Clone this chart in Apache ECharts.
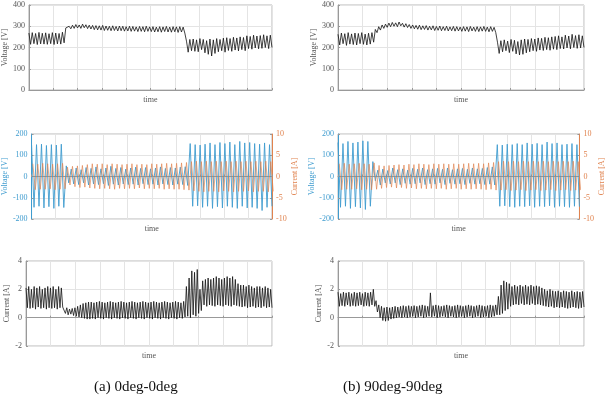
<!DOCTYPE html>
<html>
<head>
<meta charset="utf-8">
<script src="https://cdn.jsdelivr.net/npm/echarts@6/dist/echarts.min.js"></script>
<style>
  html, body { margin: 0; padding: 0; background: #fff; }
  #chart { width: 607px; height: 400px; }
</style>
</head>
<body>
<div id="chart"></div>
<script>
// 每个周期的峰值/谷值
// 顶部：直流电压 [V]
const voltA = [
  268,215, 270,218, 266,214, 271,217, 267,216, 269,215, 265,218, 270,214, 268,217, 266,216, 272,222,
  292,284, 300,288, 305,290, 308,292, 306,290, 310,293, 307,289, 305,287, 304,284, 303,283,
  302,282, 304,280, 301,281, 300,279, 302,280, 299,278, 301,279, 300,277, 298,278, 300,276,
  299,277, 297,275, 299,276, 298,274, 300,276, 297,275, 298,273, 296,274, 298,272, 297,275,
  299,273, 296,272, 298,274, 297,271, 298,273, 296,268,
  230,178, 238,185, 240,182, 236,180, 242,190, 238,175, 232,168, 240,160, 236,172, 242,180,
  238,185, 244,178, 246,186, 242,182, 248,188, 245,184, 250,190, 247,185, 255,195, 252,192,
  258,198, 254,194, 256,196, 260,200, 255,195, 258,200
];
const voltB = [
  262,212, 268,218, 265,210, 270,216, 264,214, 268,212, 266,218, 270,215, 263,212, 267,216, 270,225,
  285,270, 298,282, 306,290, 310,295, 315,298, 318,300, 316,298, 320,302, 314,296, 312,294,
  308,290, 306,288, 304,286, 305,284, 302,285, 303,282, 300,283, 302,280, 299,281, 301,279,
  298,280, 300,278, 297,279, 299,277, 298,278, 296,276, 298,277, 297,275, 299,278, 296,276,
  298,275, 297,277, 299,276, 296,274, 298,276, 295,270,
  225,172, 232,180, 236,185, 230,176, 238,182, 234,170, 228,165, 236,168, 240,175, 238,180,
  242,185, 240,182, 245,188, 243,186, 248,190, 246,187, 250,192, 252,190, 255,195, 250,193,
  258,198, 254,194, 262,200, 256,196, 260,198, 255,200
];

// 中部：交流电压 [V] 与 电流 [A]
const acVoltA = [
  148,-145, 150,-140, 152,-148, 146,-142, 150,-150, 148,-140, 152,-146,
  50,-30, 35,-35, 40,-38, 32,-30, 42,-40, 38,-35, 45,-38, 36,-34, 40,-42, 48,-36,
  38,-40, 42,-35, 35,-38, 40,-36, 44,-40, 38,-34, 42,-38, 36,-36, 40,-40, 45,-35,
  38,-38, 42,-40, 40,-36, 44,-38, 46,-42,
  155,-140, 150,-138, 148,-145, 152,-140, 158,-150, 150,-142, 160,-148, 155,-140, 162,-145,
  150,-150, 165,-140, 158,-148, 160,-145, 155,-150, 152,-160, 158,-145, 150,-140
];
const acCurA = [
  3.0,-3.1, 2.9,-3.0, 3.1,-3.0, 3.0,-2.9, 2.9,-3.1, 3.0,-3.0, 3.1,-2.9,
  2.2,-2.0, 2.4,-2.4, 2.5,-2.6, 2.6,-2.5, 2.8,-2.7, 3.0,-2.8, 2.9,-2.9, 3.0,-2.8, 2.8,-2.9, 3.0,-3.0,
  2.9,-2.8, 2.8,-2.9, 2.9,-2.8, 3.0,-2.9, 2.8,-2.7, 2.9,-2.9, 2.8,-2.8, 3.0,-2.9, 2.9,-2.8, 3.0,-3.0,
  3.1,-2.9, 3.0,-3.0, 3.1,-3.0, 3.2,-3.1, 3.3,-3.2,
  3.5,-3.4, 3.6,-3.5, 3.5,-3.6, 3.6,-3.5, 3.5,-3.5, 3.6,-3.6, 3.5,-3.4, 3.6,-3.5, 3.5,-3.6,
  3.6,-3.5, 3.5,-3.5, 3.6,-3.4, 3.5,-3.6, 3.6,-3.5, 3.5,-3.5, 3.6,-3.6, 3.5,-3.5
];
const acVoltB = [
  160,-145, 155,-140, 165,-150, 158,-142, 162,-148, 168,-155, 165,-140,
  70,-20, 30,-40, 35,-30, 28,-35, 40,-30, 32,-38, 36,-32, 30,-36, 38,-34, 34,-30,
  40,-38, 32,-34, 36,-36, 38,-30, 34,-38, 40,-32, 32,-36, 36,-34, 38,-38, 34,-32,
  40,-36, 36,-34, 38,-38, 42,-36, 45,-40,
  150,-140, 148,-138, 152,-142, 150,-145, 155,-140, 150,-142, 158,-138, 152,-145, 156,-140,
  150,-142, 162,-138, 155,-145, 158,-140, 150,-142, 152,-145, 155,-140, 150,-142
];
const acCurB = [
  3.0,-3.1, 3.1,-3.0, 2.9,-3.0, 3.0,-2.9, 3.1,-3.1, 3.0,-3.0, 2.9,-3.1,
  3.2,-3.0, 2.6,-2.8, 2.5,-2.6, 2.6,-2.5, 2.7,-2.7, 2.8,-2.6, 2.7,-2.8, 2.9,-2.7, 2.8,-2.9, 3.0,-2.8,
  2.9,-2.9, 2.8,-2.8, 3.0,-2.9, 2.9,-2.8, 3.0,-3.0, 2.9,-2.9, 3.0,-2.8, 2.9,-3.0, 3.0,-2.9, 3.1,-3.0,
  3.0,-2.9, 3.1,-3.0, 3.0,-3.1, 3.2,-3.0, 3.3,-3.2,
  3.5,-3.2, 3.6,-3.1, 3.5,-3.3, 3.6,-3.2, 3.5,-3.1, 3.6,-3.3, 3.5,-3.2, 3.6,-3.1, 3.5,-3.3,
  3.6,-3.2, 3.5,-3.1, 3.6,-3.3, 3.5,-3.2, 3.6,-3.1, 3.5,-3.3, 3.6,-3.2, 3.5,-3.2
];

// 底部：电流 [A]
const curA = [
  2.1,0.7, 2.2,0.65, 2.0,0.7, 2.2,0.6, 2.1,0.75, 2.2,0.65, 2.0,0.7, 2.1,0.6, 2.2,0.7, 2.1,0.65,
  2.2,0.7, 2.0,0.6, 2.2,0.7, 2.1,0.75,
  0.8,0.3, 0.7,0.2, 0.6,0.25, 0.65,0.15, 0.7,0.1, 0.8,0.05, 0.9,0.0, 1.0,-0.05, 1.05,-0.1, 1.1,-0.1,
  1.1,-0.05, 1.05,-0.1, 1.1,0.0, 1.15,-0.05, 1.1,-0.1, 1.05,0.0, 1.1,-0.05, 1.15,-0.1, 1.1,0.0, 1.05,-0.05,
  1.1,-0.1, 1.15,0.0, 1.1,-0.05, 1.05,-0.1, 1.1,0.0, 1.15,-0.05, 1.1,-0.1, 1.05,0.0, 1.1,-0.05, 1.15,-0.1,
  1.1,0.0, 1.05,-0.05, 1.1,-0.1, 1.15,0.0, 1.1,-0.05, 1.05,-0.1, 1.1,0.0, 1.15,-0.05, 1.1,-0.1, 1.05,0.0,
  1.1,-0.05, 1.15,-0.1, 1.1,0.0, 1.05,-0.05, 1.15,0.05,
  2.2,0.1, 2.8,0.0, 3.3,0.2, 3.2,0.1, 3.4,0.3, 2.0,0.5, 2.6,0.9, 2.7,0.8, 2.8,0.9, 2.7,0.85,
  2.8,0.8, 2.9,0.9, 2.8,0.85, 2.7,0.8, 2.8,0.9, 2.9,0.85, 2.8,0.8, 2.9,0.9, 2.7,0.85, 2.4,0.8,
  2.3,0.75, 2.3,0.8, 2.2,0.7, 2.3,0.75, 2.2,0.8, 2.1,0.7, 2.2,0.75, 2.2,0.7, 2.1,0.8, 2.2,0.7,
  2.1,0.75, 2.0,0.7
];
const curB = [
  1.8,0.8, 1.7,0.85, 1.8,0.8, 1.75,0.9, 1.8,0.8, 1.7,0.85, 1.8,0.8, 1.75,0.85, 1.8,0.9, 1.7,0.8,
  1.8,0.85, 1.75,0.8, 1.8,0.9, 2.0,0.8,
  1.2,0.4, 0.9,0.0, 0.8,-0.2, 0.7,-0.25, 0.75,-0.2, 0.7,-0.1, 0.75,-0.05, 0.8,0.0, 0.75,0.05, 0.8,0.0,
  0.85,0.05, 0.8,0.0, 0.85,0.05, 0.8,0.1, 0.85,0.0, 0.8,0.05, 0.85,0.1, 0.9,0.0, 0.85,0.05, 0.8,0.1,
  1.75,0.05, 0.85,0.1, 0.9,0.0, 0.85,0.05, 0.8,0.1, 0.85,0.05, 0.9,0.0, 0.85,0.1, 0.8,0.05, 0.85,0.0,
  0.9,0.05, 0.85,0.1, 0.8,0.0, 0.85,0.05, 0.9,0.1, 0.85,0.0, 0.8,0.05, 0.85,0.1, 0.9,0.0, 0.85,0.05,
  0.8,0.1, 0.85,0.0, 0.9,0.05, 0.85,0.1, 0.9,0.2,
  1.5,0.2, 2.3,0.3, 2.6,0.5, 2.5,0.6, 2.4,0.8, 2.2,0.9, 2.3,0.95, 2.2,0.9, 2.3,1.0, 2.2,0.9,
  2.3,0.95, 2.2,0.9, 2.3,1.0, 2.2,0.9, 2.25,0.95, 2.2,0.9, 2.1,0.85, 2.0,0.8, 1.9,0.75, 2.0,0.8,
  1.9,0.7, 1.85,0.75, 1.9,0.7, 1.8,0.75, 1.9,0.7, 1.85,0.65, 1.8,0.7, 1.9,0.75, 1.8,0.7, 1.85,0.65,
  1.8,0.7, 1.85,0.75
];

const captions = ['(a) 0deg-0deg', '(b) 90deg-90deg'];

const FONT = '"Liberation Serif", "DejaVu Serif", serif';
const BLUE = '#3f9ccf';
const ORANGE = '#e0834f';

const chart = echarts.init(document.getElementById('chart'));

const grids = [], xAxes = [], yAxes = [], series = [];

const lefts = [26, 338];
const tops = [5, 134, 261];

function toXY(arr, shift) {
  return arr.map((v, i) => [i + (shift || 0), v]);
}

function addGrid(left, top) {
  grids.push({ left: left, top: top, width: 246, height: 85, show: true, borderColor: '#b8b8b8', borderWidth: 1 });
  return grids.length - 1;
}

function addX(gi, n) {
  const max = n - 1;
  xAxes.push({
    gridIndex: gi, type: 'value', min: 0, max: max, interval: max / 10,
    name: 'time', nameLocation: 'middle', nameGap: 6,
    nameTextStyle: { fontFamily: FONT, fontSize: 8, color: '#555' },
    axisLabel: { show: false },
    axisLine: { show: true, lineStyle: { color: '#999' } },
    axisTick: { show: true, inside: true, length: 2, lineStyle: { color: '#999' } },
    splitLine: { show: true, lineStyle: { color: '#e4e4e4', width: 1 } }
  });
  return xAxes.length - 1;
}

function addY(gi, opt) {
  yAxes.push(Object.assign({
    gridIndex: gi, type: 'value', position: 'left',
    nameLocation: 'middle', nameGap: 15, nameRotate: 90,
    nameTextStyle: { fontFamily: FONT, fontSize: 8, color: '#555' },
    axisLabel: { fontFamily: FONT, fontSize: 8, color: '#555', margin: 4 },
    axisLine: { show: true, lineStyle: { color: '#999' } },
    axisTick: { show: true, inside: true, length: 2, lineStyle: { color: '#999' } },
    splitLine: { show: true, lineStyle: { color: '#e4e4e4', width: 1 } }
  }, opt));
  return yAxes.length - 1;
}

function addLine(xi, yi, data, color, width, opacity) {
  series.push({
    type: 'line', xAxisIndex: xi, yAxisIndex: yi, data: data,
    showSymbol: false, symbol: 'none', silent: true,
    lineStyle: { color: color, width: width, opacity: opacity },
    z: 3
  });
}

[[voltA, acVoltA, acCurA, curA], [voltB, acVoltB, acCurB, curB]].forEach((set, k) => {
  const left = lefts[k];

  // 直流电压
  let gi = addGrid(left, tops[0]);
  let xi = addX(gi, set[0].length);
  let yi = addY(gi, { min: 0, max: 400, interval: 100, name: 'Voltage [V]' });
  addLine(xi, yi, toXY(set[0]), '#111', 0.8, 1);

  // 交流电压 / 电流
  gi = addGrid(left, tops[1]);
  xi = addX(gi, set[1].length);
  const yl = addY(gi, {
    min: -200, max: 200, interval: 100, name: 'Voltage [V]',
    nameTextStyle: { fontFamily: FONT, fontSize: 8, color: BLUE },
    axisLabel: { fontFamily: FONT, fontSize: 8, color: BLUE, margin: 4 },
    axisLine: { show: true, lineStyle: { color: BLUE } }
  });
  const yr = addY(gi, {
    position: 'right', min: -10, max: 10, interval: 5, name: 'Current [A]', nameGap: 14,
    nameTextStyle: { fontFamily: FONT, fontSize: 8, color: ORANGE },
    axisLabel: { fontFamily: FONT, fontSize: 8, color: ORANGE, margin: 4 },
    axisLine: { show: true, lineStyle: { color: ORANGE } },
    splitLine: { show: false }
  });
  addLine(xi, yl, toXY(set[1]), BLUE, 0.9, 1);
  addLine(xi, yr, toXY(set[2], 0.5), ORANGE, 0.8, 0.85);

  // 电流
  gi = addGrid(left, tops[2]);
  xi = addX(gi, set[3].length);
  yi = addY(gi, { min: -2, max: 4, interval: 2, name: 'Current [A]' });
  addLine(xi, yi, toXY(set[3]), '#111', 0.8, 1);
});

chart.setOption({
  animation: false,
  backgroundColor: '#fff',
  grid: grids,
  xAxis: xAxes,
  yAxis: yAxes,
  series: series,
  graphic: [
    { type: 'text', left: 138 - 44, top: 380, style: { text: captions[0], font: '15px ' + FONT, fill: '#111' } },
    { type: 'text', left: 395 - 52, top: 380, style: { text: captions[1], font: '15px ' + FONT, fill: '#111' } }
  ]
});
</script>
</body>
</html>
